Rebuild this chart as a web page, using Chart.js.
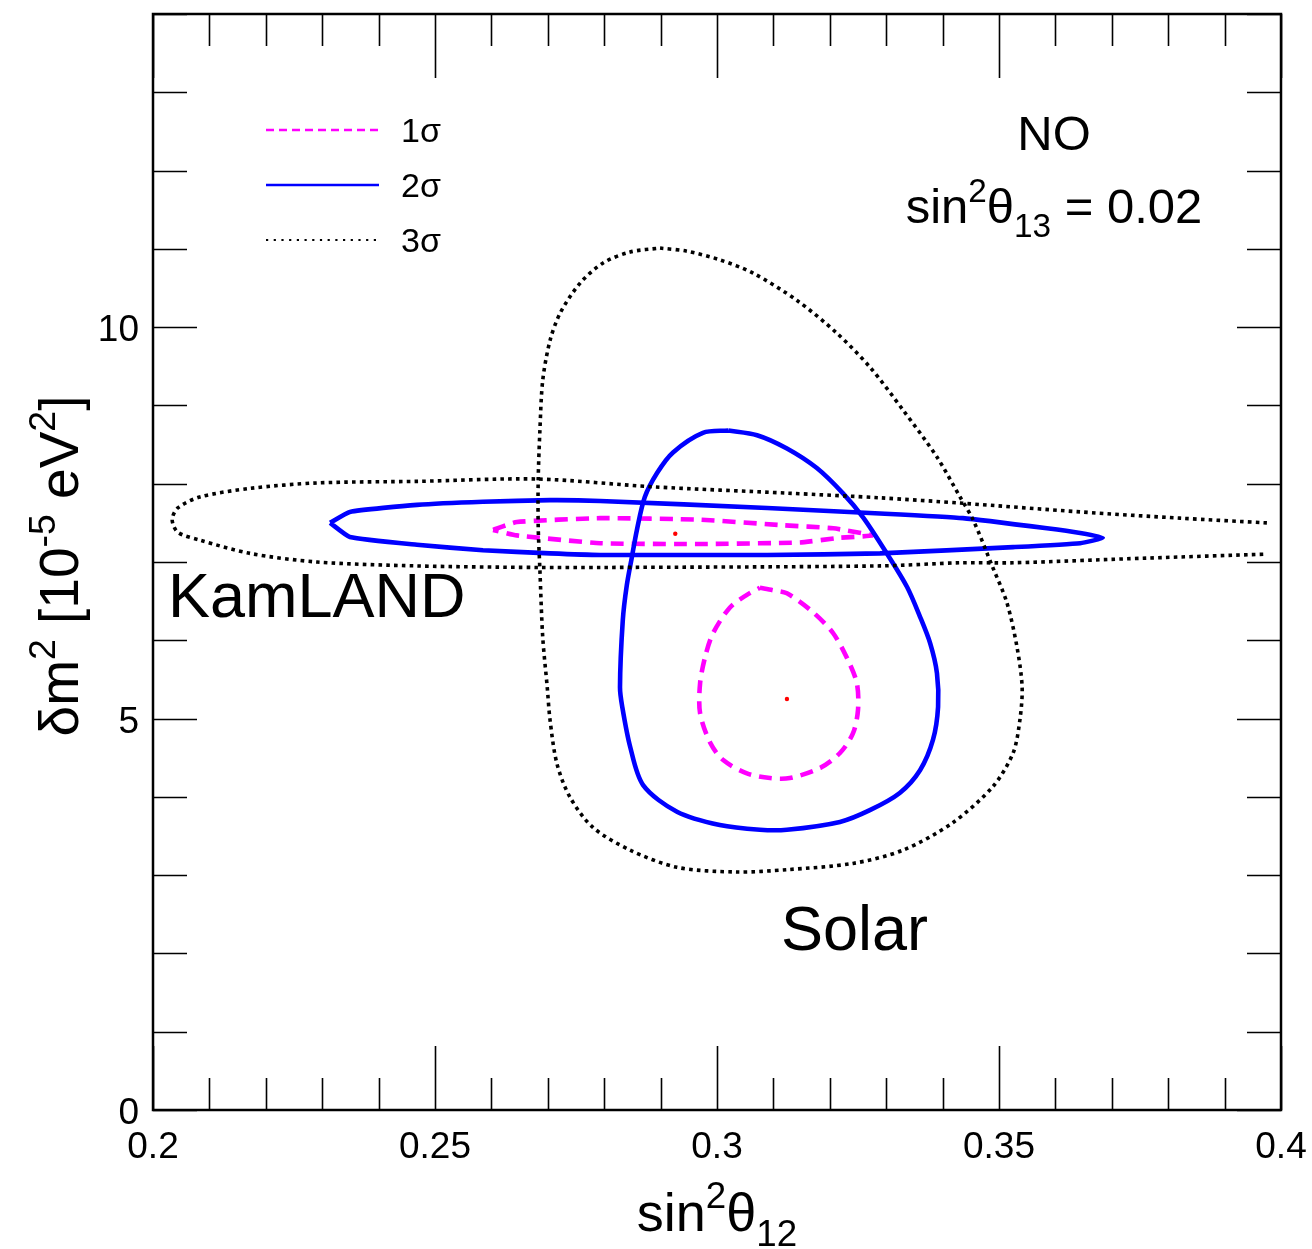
<!DOCTYPE html>
<html>
<head>
<meta charset="utf-8">
<script src="https://cdn.jsdelivr.net/npm/chart.js@4.4.0/dist/chart.umd.min.js"></script>
<style>
  html, body { margin: 0; padding: 0; background: #fff; }
  #wrap { width: 1312px; height: 1249px; }
</style>
</head>
<body>
<div id="wrap"><canvas id="contourChart" width="1312" height="1249"></canvas></div>
<script>
// Allowed regions in the (sin^2 theta12, delta m^2) plane, NO, sin^2 theta13 = 0.02
const xTicks = [0.2, 0.25, 0.3, 0.35, 0.4];
const yTicks = [0, 5, 10];
const legendLabels = ['1σ', '2σ', '3σ'];

// Solar contours (closed)
const solar1Sigma = [
  [0.3076, 6.67], [0.3099, 6.64], [0.3124, 6.60], [0.3170, 6.36], [0.3206, 6.09],
  [0.3232, 5.75], [0.3248, 5.45], [0.3250, 5.11], [0.3241, 4.81], [0.3218, 4.56],
  [0.3183, 4.37], [0.3129, 4.24], [0.3094, 4.24], [0.3053, 4.30], [0.3011, 4.47],
  [0.2988, 4.69], [0.2970, 5.07], [0.2970, 5.45], [0.2979, 5.79], [0.2993, 6.09],
  [0.3023, 6.42], [0.3053, 6.58]
];
const solar2Sigma = [
  [0.3020, 8.68], [0.3071, 8.62], [0.3124, 8.45], [0.3177, 8.20], [0.3223, 7.88],
  [0.3259, 7.57], [0.3301, 7.11], [0.3337, 6.68], [0.3360, 6.30], [0.3378, 5.96],
  [0.3390, 5.58], [0.3392, 5.15], [0.3383, 4.73], [0.3360, 4.34], [0.3324, 4.05],
  [0.3271, 3.83], [0.3218, 3.68], [0.3124, 3.58], [0.3076, 3.58], [0.3005, 3.64],
  [0.2929, 3.81], [0.2869, 4.15], [0.2846, 4.64], [0.2832, 5.15], [0.2828, 5.40],
  [0.2833, 6.26], [0.2840, 6.70], [0.2849, 7.06], [0.2858, 7.41], [0.2872, 7.83],
  [0.2894, 8.14], [0.2922, 8.40], [0.2975, 8.65]
];
const solar3Sigma = [
  [0.2899, 11.01], [0.2947, 10.97], [0.3005, 10.86], [0.3064, 10.69], [0.3142, 10.34],
  [0.3213, 9.92], [0.3271, 9.49], [0.3330, 8.94], [0.3390, 8.34], [0.3431, 7.83],
  [0.3454, 7.54], [0.3489, 6.93], [0.3514, 6.48], [0.3532, 5.91], [0.3541, 5.40],
  [0.3537, 4.98], [0.3525, 4.56], [0.3489, 4.13], [0.3418, 3.67], [0.3330, 3.32],
  [0.3241, 3.15], [0.3124, 3.07], [0.3035, 3.04], [0.2929, 3.10], [0.2846, 3.32],
  [0.2780, 3.61], [0.2739, 4.00], [0.2716, 4.43], [0.2704, 4.98], [0.2699, 5.40],
  [0.2691, 6.04], [0.2686, 6.90], [0.2683, 7.45], [0.2683, 8.05], [0.2686, 8.68],
  [0.2691, 9.32], [0.2704, 9.83], [0.2722, 10.18], [0.2757, 10.56], [0.2798, 10.82],
  [0.2846, 10.96]
];

// KamLAND contours (3 sigma runs off the right edge, so it stays open)
const kamland1Sigma = [
  [0.2603, 7.41], [0.2645, 7.51], [0.2793, 7.56], [0.2970, 7.54], [0.3117, 7.47],
  [0.3206, 7.43], [0.3275, 7.34], [0.3218, 7.31], [0.3147, 7.25], [0.2970, 7.23],
  [0.2793, 7.24], [0.2645, 7.34]
];
const kamland2Sigma = [
  [0.2314, 7.50], [0.2349, 7.64], [0.2468, 7.73], [0.2585, 7.77], [0.2704, 7.79],
  [0.2793, 7.78], [0.3089, 7.69], [0.3289, 7.62], [0.3436, 7.56], [0.3585, 7.43],
  [0.3644, 7.37], [0.3684, 7.31], [0.3644, 7.24], [0.3525, 7.19], [0.3289, 7.11],
  [0.3089, 7.09], [0.2793, 7.09], [0.2704, 7.11], [0.2585, 7.15], [0.2468, 7.22],
  [0.2349, 7.32]
];
const kamland3Sigma = [
  [0.3975, 7.50], [0.3821, 7.56], [0.3644, 7.64], [0.3436, 7.75], [0.3289, 7.82],
  [0.3124, 7.88], [0.2887, 7.96], [0.2681, 8.06], [0.2468, 8.03], [0.2291, 8.01],
  [0.2172, 7.94], [0.2083, 7.83], [0.2044, 7.69], [0.2034, 7.54], [0.2044, 7.38],
  [0.2083, 7.28], [0.2172, 7.11], [0.2291, 7.00], [0.2468, 6.95], [0.2681, 6.93],
  [0.2793, 6.93], [0.3289, 6.95], [0.3431, 6.99], [0.3525, 6.99], [0.3762, 7.05],
  [0.3975, 7.10]
];

// best-fit points
const kamlandBest = [0.2926, 7.36];
const solarBest = [0.3124, 5.25];

const FONT = '"Liberation Sans", Arial, Helvetica, sans-serif';
const MAGENTA = '#ff00ff';
const BLUE = '#0000ff';
const BLACK = '#000000';

function toPoints(arr, closed) {
  const pts = arr.map(p => ({ x: p[0], y: p[1] }));
  if (closed) pts.push({ x: arr[0][0], y: arr[0][1] });
  return pts;
}

function contour(arr, closed, color, width, dash, tension) {
  return {
    data: toPoints(arr, closed),
    showLine: true,
    fill: false,
    borderColor: color,
    borderWidth: width,
    borderDash: dash,
    borderCapStyle: 'butt',
    borderJoinStyle: 'round',
    pointRadius: 0,
    tension: tension
  };
}

// draws text pieces with super/subscripts; parts = [text, shift] with shift 1 = sup, -1 = sub
function drawRich(ctx, parts, x, y, size, align) {
  const small = size * 0.68;
  let total = 0;
  parts.forEach(p => {
    ctx.font = (p[1] === 0 ? size : small) + 'px ' + FONT;
    total += ctx.measureText(p[0]).width;
  });
  let cx = align === 'center' ? x - total / 2 : (align === 'right' ? x - total : x);
  ctx.textAlign = 'left';
  ctx.textBaseline = 'alphabetic';
  parts.forEach(p => {
    ctx.font = (p[1] === 0 ? size : small) + 'px ' + FONT;
    let dy = 0;
    if (p[1] === 1) dy = -size * 0.42;
    if (p[1] === -1) dy = size * 0.28;
    ctx.fillText(p[0], cx, y + dy);
    cx += ctx.measureText(p[0]).width;
  });
}

const framePlugin = {
  id: 'frameAndText',
  afterDatasetsDraw(chart) {
    const ctx = chart.ctx;
    const a = chart.chartArea;
    const xs = chart.scales.x;
    const ys = chart.scales.y;
    ctx.save();
    ctx.strokeStyle = BLACK;
    ctx.fillStyle = BLACK;
    ctx.setLineDash([]);

    // tick marks on all four sides, pointing inward
    ctx.lineWidth = 1.6;
    ctx.beginPath();
    for (let i = 0; i <= 20; i++) {
      const v = 0.2 + i * 0.01;
      const px = Math.round(xs.getPixelForValue(v)) + 0.5;
      const len = (i % 5 === 0) ? 64 : 32;
      ctx.moveTo(px, a.bottom); ctx.lineTo(px, a.bottom - len);
      ctx.moveTo(px, a.top); ctx.lineTo(px, a.top + len);
    }
    for (let v = 0; v <= 14; v++) {
      const py = Math.round(ys.getPixelForValue(v)) + 0.5;
      const len = (v % 5 === 0) ? 44 : 34;
      ctx.moveTo(a.left, py); ctx.lineTo(a.left + len, py);
      ctx.moveTo(a.right, py); ctx.lineTo(a.right - len, py);
    }
    ctx.stroke();

    // frame
    ctx.lineWidth = 2.5;
    ctx.strokeRect(a.left, a.top, a.right - a.left, a.bottom - a.top);

    // tick labels
    ctx.font = '37px ' + FONT;
    ctx.textAlign = 'center';
    ctx.textBaseline = 'alphabetic';
    xTicks.forEach(v => {
      ctx.fillText(String(v), xs.getPixelForValue(v), a.bottom + 48);
    });
    ctx.textAlign = 'right';
    yTicks.forEach(v => {
      ctx.fillText(String(v), a.left - 14, ys.getPixelForValue(v) + 14);
    });

    // axis titles
    drawRich(ctx, [['sin', 0], ['2', 1], ['θ', 0], ['12', -1]],
      (a.left + a.right) / 2, a.bottom + 121, 54, 'center');
    ctx.save();
    ctx.translate(78, 566);
    ctx.rotate(-Math.PI / 2);
    drawRich(ctx, [['δm', 0], ['2', 1], [' [10', 0], ['-5', 1], [' eV', 0], ['2', 1], [']', 0]],
      0, 0, 55, 'center');
    ctx.restore();

    // annotations
    ctx.font = '49px ' + FONT;
    ctx.textAlign = 'center';
    ctx.fillText('NO', 1054, 150);
    drawRich(ctx, [['sin', 0], ['2', 1], ['θ', 0], ['13', -1], [' = 0.02', 0]], 1054, 223, 49, 'center');
    ctx.font = '63px ' + FONT;
    ctx.textAlign = 'left';
    ctx.fillText('KamLAND', 168, 617);
    ctx.fillText('Solar', 781, 950);

    // legend
    const styles = [
      { color: MAGENTA, width: 2.4, dash: [8, 5] },
      { color: BLUE, width: 2.6, dash: [] },
      { color: BLACK, width: 2.2, dash: [2.2, 5.5] }
    ];
    const rows = [130, 185, 240];
    styles.forEach((s, i) => {
      ctx.strokeStyle = s.color;
      ctx.lineWidth = s.width;
      ctx.setLineDash(s.dash);
      ctx.beginPath();
      ctx.moveTo(266, rows[i]);
      ctx.lineTo(379, rows[i]);
      ctx.stroke();
    });
    ctx.setLineDash([]);
    ctx.fillStyle = BLACK;
    ctx.font = '34px ' + FONT;
    ctx.textAlign = 'left';
    legendLabels.forEach((t, i) => ctx.fillText(t, 401, rows[i] + 12));

    ctx.restore();
  }
};

const ctx = document.getElementById('contourChart');
new Chart(ctx, {
  type: 'scatter',
  data: {
    datasets: [
      contour(kamland3Sigma, false, BLACK, 3.6, [3.6, 4.2], 0.3),
      contour(solar3Sigma, true, BLACK, 3.6, [3.6, 4.2], 0.3),
      contour(kamland2Sigma, true, BLUE, 4.6, [], 0.15),
      contour(solar2Sigma, true, BLUE, 4.6, [], 0.3),
      contour(kamland1Sigma, true, MAGENTA, 4.6, [13, 8], 0.15),
      contour(solar1Sigma, true, MAGENTA, 4.6, [13, 8], 0.3),
      {
        data: [{ x: kamlandBest[0], y: kamlandBest[1] }, { x: solarBest[0], y: solarBest[1] }],
        showLine: false,
        pointRadius: 2.2,
        pointBorderWidth: 0,
        backgroundColor: '#ff0000'
      }
    ]
  },
  options: {
    responsive: false,
    animation: false,
    devicePixelRatio: 1,
    layout: { padding: { left: 153, top: 14, right: 31, bottom: 139 } },
    plugins: {
      legend: { display: false },
      tooltip: { enabled: false }
    },
    scales: {
      x: { type: 'linear', min: 0.2, max: 0.4, display: false },
      y: { type: 'linear', min: 0, max: 14, display: false }
    }
  },
  plugins: [framePlugin]
});
</script>
</body>
</html>
